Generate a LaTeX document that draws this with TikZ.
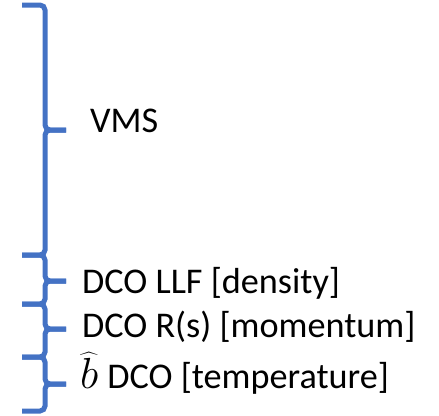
\documentclass[tikz,border=0pt]{standalone}
\usepackage{fontspec}
\setmainfont{Carlito}
\definecolor{braceblue}{RGB}{68,114,196}
\begin{document}
\begin{tikzpicture}[x=1pt,y=-1pt,
  bracestyle/.style={draw=braceblue,line width=5pt,rounded corners=5pt,line cap=butt},
  label/.style={anchor=base west,inner sep=0pt,font=\fontsize{36.2}{42}\selectfont}]
\useasboundingbox (0,0) rectangle (439,415);

% right-facing curly braces: top end, bottom end, tip
\newcommand{\curlybrace}[3]{%
  \draw[bracestyle] (22,#1) -- (45,#1) -- (45,#3) -- (66,#3);
  \draw[bracestyle] (22,#2) -- (45,#2) -- (45,#3) -- (66,#3);}

\curlybrace{5}{255}{130}
\curlybrace{255}{304}{281}
\curlybrace{304}{357}{329}
\curlybrace{357}{411}{384}

\node[label] (vms) at (90,132) {VMS};
\node[label] (llf) at (82,293) {DCO LLF [density]};
\node[label] (rs) at (82,337) {DCO R(s) [momentum]};
\node[label] (bh) at (80,388) {\scalebox{1.75}{$\widehat{b}$}\hspace{0.25em}DCO [temperature]};
\end{tikzpicture}
\end{document}
